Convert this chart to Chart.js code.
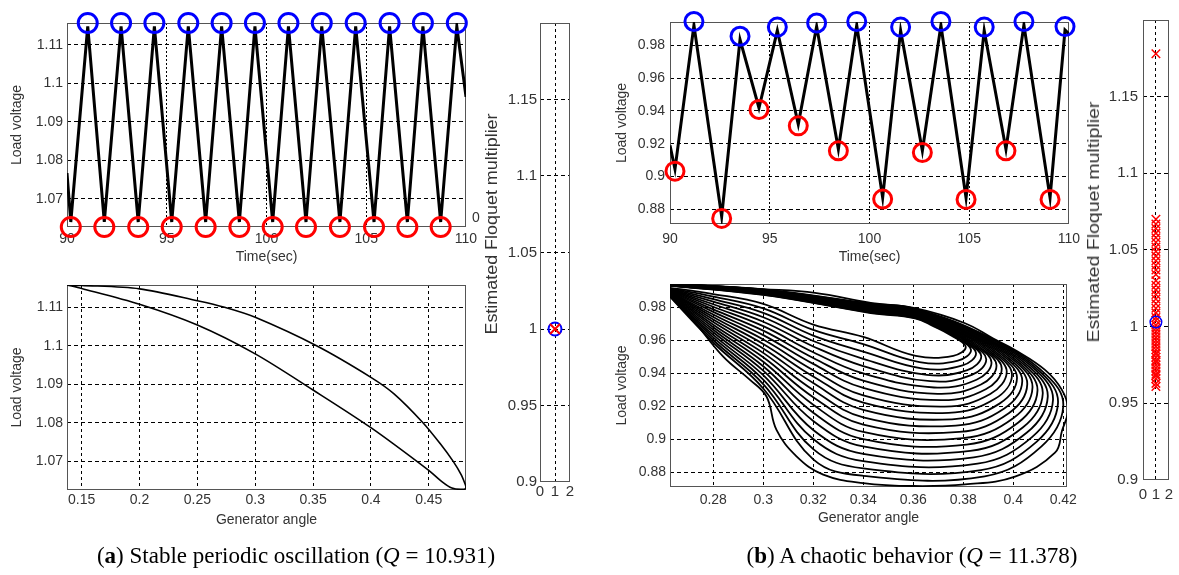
<!DOCTYPE html>
<html><head><meta charset="utf-8">
<script src="https://cdn.jsdelivr.net/npm/chart.js@4.4.1/dist/chart.umd.min.js"></script>
<style>
html,body{margin:0;padding:0;background:#fff;width:1179px;height:575px;overflow:hidden;position:relative}
canvas{position:absolute}
.lbl{position:absolute;font-family:"Liberation Sans",Arial,sans-serif;color:#333;white-space:nowrap;line-height:1}
.cap{position:absolute;font-family:"Liberation Serif","Times New Roman",serif;font-size:23px;color:#000;white-space:nowrap;transform:translate(-50%,-50%);line-height:1}
</style></head><body>
<canvas id="a1" width="490" height="275" style="left:0;top:0"></canvas>
<canvas id="a2" width="490" height="275" style="left:0;top:262px"></canvas>
<canvas id="a3" width="120" height="510" style="left:470px;top:0"></canvas>
<canvas id="b1" width="490" height="275" style="left:600px;top:0"></canvas>
<canvas id="b2" width="490" height="275" style="left:600px;top:262px"></canvas>
<canvas id="b3" width="99" height="510" style="left:1080px;top:0"></canvas>
<div class="lbl" style="left:476px;top:217px;font-size:14px;transform:translate(-50%,-50%)">0</div>
<div class="lbl" style="left:492px;top:224px;font-size:16px;transform:translate(-50%,-50%) rotate(-90deg) scaleX(1.12)">Estimated Floquet multiplier</div>
<div class="lbl" style="left:1094px;top:222px;font-size:16px;transform:translate(-50%,-50%) rotate(-90deg) scaleX(1.22)">Estimated Floquet multiplier</div>
<div class="cap" style="left:296px;top:555px">(<b>a</b>) Stable periodic oscillation (<i>Q</i> = 10.931)</div>
<div class="cap" style="left:912px;top:555px">(<b>b</b>) A chaotic behavior (<i>Q</i> = 11.378)</div>
<script>
// ---------- panel (a) top: load voltage vs time ----------
const timeA = [90, 90.19, 91.04, 91.87, 92.71, 93.57, 94.38, 95.25, 96.08, 96.95, 97.75, 98.64, 99.42, 100.31, 101.10, 101.98, 102.77, 103.68, 104.47, 105.39, 106.17, 107.06, 107.84, 108.73, 109.54, 110];
const voltA = [1.0767, 1.0640, 1.1148, 1.0640, 1.1148, 1.0640, 1.1148, 1.0640, 1.1148, 1.0640, 1.1148, 1.0640, 1.1148, 1.0640, 1.1148, 1.0640, 1.1148, 1.0640, 1.1148, 1.0640, 1.1148, 1.0640, 1.1148, 1.0640, 1.1148, 1.0965];
const peakTimeA = [91.04, 92.71, 94.38, 96.08, 97.75, 99.42, 101.10, 102.77, 104.47, 106.17, 107.84, 109.54];
const peakVoltA = [1.1157, 1.1157, 1.1157, 1.1157, 1.1157, 1.1157, 1.1157, 1.1157, 1.1157, 1.1157, 1.1157, 1.1157];
const troughTimeA = [90.19, 91.87, 93.57, 95.25, 96.95, 98.64, 100.31, 101.98, 103.68, 105.39, 107.06, 108.73];
const troughVoltA = [1.0627, 1.0627, 1.0627, 1.0627, 1.0627, 1.0627, 1.0627, 1.0627, 1.0627, 1.0627, 1.0627, 1.0627];
const timeTicks = [90, 95, 100, 105, 110];
const timeTickLabels = ['90', '95', '100', '105', '110'];
const voltTicksA = [1.07, 1.08, 1.09, 1.1, 1.11];
const voltTickLabelsA = ['1.07', '1.08', '1.09', '1.1', '1.11'];

// ---------- panel (a) bottom: phase portrait ----------
const angleA = [0.1373, 0.15, 0.2, 0.25, 0.2735, 0.3, 0.353, 0.4, 0.42, 0.445, 0.46, 0.471, 0.478, 0.4815, 0.4822, 0.4805, 0.47, 0.46, 0.45, 0.4, 0.35, 0.3, 0.25, 0.2, 0.15, 0.1373];
const phaseVoltA = [1.1158, 1.1157, 1.1148, 1.1117, 1.1100, 1.1074, 1.1000, 1.0918, 1.0875, 1.0800, 1.0745, 1.0700, 1.0665, 1.0640, 1.0632, 1.0627, 1.0630, 1.0650, 1.0676, 1.0787, 1.0885, 1.0979, 1.1054, 1.1108, 1.1149, 1.1158];
const angleTicksA = [0.15, 0.2, 0.25, 0.3, 0.35, 0.4, 0.45];
const angleTickLabelsA = ['0.15', '0.2', '0.25', '0.3', '0.35', '0.4', '0.45'];

// ---------- Floquet multipliers ----------
const floquetTicks = [0.9, 0.95, 1, 1.05, 1.1, 1.15];
const floquetTickLabels = ['0.9', '0.95', '1', '1.05', '1.1', '1.15'];
const indexTicks = [0, 1, 2];
const indexTickLabels = ['0', '1', '2'];
const floquetA = [1.0];
const floquetCircleA = [1.0];
const floquetB = [0.961, 0.963, 0.966, 0.968, 0.969, 0.971, 0.973, 0.975, 0.977, 0.978, 0.980, 0.982, 0.983, 0.985, 0.987, 0.989, 0.991, 0.993, 0.995, 0.997, 0.999, 1.001, 1.004, 1.006, 1.009, 1.012, 1.015, 1.018, 1.021, 1.024, 1.027, 1.030, 1.034, 1.037, 1.040, 1.043, 1.046, 1.049, 1.052, 1.055, 1.058, 1.061, 1.064, 1.067, 1.070, 1.178];
const floquetCircleB = [1.003];
const multiplierIndex = 1;

// ---------- panel (b) top: load voltage vs time ----------
const timeB = [90, 90.25, 91.20, 92.59, 93.51, 94.46, 95.38, 96.43, 97.35, 98.44, 99.36, 100.66, 101.56, 102.65, 103.58, 104.84, 105.75, 106.84, 107.74, 109.05, 109.80, 110];
const voltB = [0.9190, 0.9045, 0.9922, 0.8757, 0.9835, 0.9418, 0.9890, 0.9318, 0.9915, 0.9167, 0.9922, 0.8873, 0.9890, 0.9157, 0.9922, 0.8871, 0.9890, 0.9167, 0.9924, 0.8871, 0.9893, 0.9870];
const peakTimeB = [91.20, 93.51, 95.38, 97.35, 99.36, 101.56, 103.58, 105.75, 107.74, 109.80];
const peakVoltB = [0.9945, 0.9855, 0.9911, 0.9936, 0.9945, 0.9911, 0.9945, 0.9911, 0.9945, 0.9914];
const troughTimeB = [90.25, 92.59, 94.46, 96.43, 98.44, 100.66, 102.65, 104.84, 106.84, 109.05];
const troughVoltB = [0.9033, 0.8745, 0.9409, 0.9309, 0.9157, 0.8863, 0.9147, 0.8861, 0.9157, 0.8861];
const voltTicksB = [0.88, 0.9, 0.92, 0.94, 0.96, 0.98];
const voltTickLabelsB = ['0.88', '0.9', '0.92', '0.94', '0.96', '0.98'];

// ---------- panel (b) bottom: chaotic attractor, orbits ([angle, voltage]) ----------
const orbit01 = [[0.259,0.9935],[0.300,0.9875],[0.343,0.9765],[0.3607,0.9733],[0.368,0.9685],[0.375,0.9630],[0.381,0.9560],[0.376,0.9505],[0.361,0.9505],[0.340,0.9620],[0.320,0.9695],[0.300,0.9820],[0.280,0.9880],[0.259,0.9925]];
const orbit02 = [[0.259,0.9936],[0.300,0.9877],[0.343,0.9768],[0.3607,0.9736],[0.3692,0.9681],[0.3770,0.9618],[0.3831,0.9541],[0.3779,0.9476],[0.3625,0.9467],[0.340,0.9576],[0.320,0.9662],[0.300,0.9793],[0.280,0.9865],[0.259,0.9925]];
const orbit03 = [[0.259,0.9936],[0.300,0.9879],[0.343,0.9771],[0.3607,0.9739],[0.3704,0.9678],[0.3790,0.9605],[0.3851,0.9522],[0.3797,0.9447],[0.3639,0.9428],[0.340,0.9531],[0.320,0.9628],[0.300,0.9766],[0.280,0.9849],[0.259,0.9925]];
const orbit04 = [[0.259,0.9937],[0.300,0.9880],[0.343,0.9774],[0.3607,0.9742],[0.3716,0.9674],[0.3810,0.9593],[0.3872,0.9503],[0.3816,0.9418],[0.3654,0.9390],[0.340,0.9487],[0.320,0.9595],[0.300,0.9739],[0.280,0.9834],[0.259,0.9925]];
const orbit05 = [[0.259,0.9937],[0.300,0.9882],[0.343,0.9777],[0.3607,0.9745],[0.3728,0.9670],[0.3830,0.9580],[0.3892,0.9484],[0.3834,0.9389],[0.3668,0.9351],[0.340,0.9443],[0.320,0.9562],[0.300,0.9712],[0.280,0.9818],[0.259,0.9925]];
const orbit06 = [[0.259,0.9938],[0.300,0.9884],[0.343,0.9780],[0.3607,0.9748],[0.3740,0.9666],[0.3850,0.9568],[0.3913,0.9465],[0.3853,0.9360],[0.3683,0.9313],[0.340,0.9398],[0.320,0.9527],[0.300,0.9685],[0.280,0.9803],[0.259,0.9925]];
const orbit07 = [[0.259,0.9938],[0.300,0.9886],[0.343,0.9783],[0.3607,0.9751],[0.3752,0.9663],[0.3870,0.9555],[0.3933,0.9446],[0.3871,0.9331],[0.3697,0.9274],[0.340,0.9354],[0.320,0.9492],[0.300,0.9658],[0.280,0.9787],[0.259,0.9925]];
const orbit08 = [[0.259,0.9939],[0.300,0.9887],[0.343,0.9786],[0.3607,0.9754],[0.3764,0.9659],[0.3890,0.9543],[0.3954,0.9427],[0.3890,0.9302],[0.3712,0.9236],[0.340,0.9310],[0.320,0.9456],[0.300,0.9631],[0.280,0.9772],[0.259,0.9925]];
const orbit09 = [[0.259,0.9939],[0.300,0.9889],[0.343,0.9789],[0.3607,0.9757],[0.3776,0.9655],[0.3910,0.9530],[0.3974,0.9408],[0.3908,0.9273],[0.3726,0.9197],[0.340,0.9265],[0.320,0.9418],[0.300,0.9604],[0.280,0.9756],[0.259,0.9925]];
const orbit10 = [[0.259,0.9940],[0.300,0.9891],[0.343,0.9792],[0.3607,0.9760],[0.3788,0.9651],[0.3930,0.9518],[0.3995,0.9389],[0.3927,0.9244],[0.3741,0.9159],[0.340,0.9221],[0.320,0.9380],[0.300,0.9577],[0.280,0.9741],[0.259,0.9925]];
const orbit11 = [[0.259,0.9940],[0.300,0.9893],[0.343,0.9795],[0.3607,0.9764],[0.3800,0.9648],[0.3950,0.9505],[0.4015,0.9370],[0.3945,0.9215],[0.3755,0.9120],[0.340,0.9177],[0.320,0.9340],[0.300,0.9550],[0.280,0.9725],[0.259,0.9925]];
const orbit12 = [[0.259,0.9941],[0.300,0.9894],[0.343,0.9798],[0.3607,0.9767],[0.3812,0.9644],[0.3970,0.9493],[0.4036,0.9351],[0.3964,0.9186],[0.3770,0.9082],[0.340,0.9132],[0.320,0.9298],[0.300,0.9523],[0.280,0.9710],[0.259,0.9925]];
const orbit13 = [[0.259,0.9941],[0.300,0.9896],[0.343,0.9801],[0.3607,0.9770],[0.3824,0.9640],[0.3990,0.9480],[0.4056,0.9332],[0.3982,0.9157],[0.3784,0.9043],[0.340,0.9088],[0.320,0.9254],[0.300,0.9496],[0.280,0.9694],[0.259,0.9925]];
const orbit14 = [[0.259,0.9942],[0.300,0.9898],[0.343,0.9804],[0.3607,0.9773],[0.3836,0.9636],[0.4010,0.9468],[0.4077,0.9313],[0.4001,0.9128],[0.3799,0.9005],[0.340,0.9043],[0.320,0.9208],[0.300,0.9469],[0.280,0.9679],[0.259,0.9925]];
const orbit15 = [[0.259,0.9942],[0.300,0.9900],[0.343,0.9807],[0.3607,0.9776],[0.3848,0.9633],[0.4030,0.9455],[0.4097,0.9294],[0.4019,0.9099],[0.3813,0.8966],[0.340,0.8999],[0.320,0.9160],[0.300,0.9442],[0.280,0.9663],[0.259,0.9925]];
const orbit16 = [[0.259,0.9943],[0.300,0.9901],[0.343,0.9810],[0.3607,0.9779],[0.3860,0.9629],[0.4050,0.9443],[0.4118,0.9275],[0.4038,0.9070],[0.3828,0.8928],[0.340,0.8955],[0.320,0.9110],[0.300,0.9415],[0.280,0.9648],[0.259,0.9925]];
const orbit17 = [[0.259,0.9943],[0.300,0.9903],[0.343,0.9813],[0.3607,0.9782],[0.3872,0.9625],[0.4070,0.9430],[0.4138,0.9256],[0.4056,0.9041],[0.3842,0.8889],[0.340,0.8910],[0.320,0.9055],[0.300,0.9388],[0.280,0.9632],[0.259,0.9925]];
const orbit18 = [[0.259,0.9944],[0.300,0.9905],[0.343,0.9816],[0.3607,0.9785],[0.3884,0.9621],[0.4090,0.9418],[0.4159,0.9237],[0.4075,0.9012],[0.3857,0.8851],[0.340,0.8866],[0.320,0.9000],[0.300,0.9361],[0.280,0.9617],[0.259,0.9925]];
const orbit19 = [[0.259,0.9944],[0.300,0.9907],[0.343,0.9819],[0.3607,0.9788],[0.3896,0.9618],[0.4110,0.9405],[0.4179,0.9218],[0.4093,0.8983],[0.3871,0.8812],[0.340,0.8822],[0.320,0.8939],[0.300,0.9334],[0.280,0.9601],[0.259,0.9925]];
const orbit20 = [[0.259,0.9945],[0.300,0.9908],[0.343,0.9822],[0.3607,0.9791],[0.3908,0.9614],[0.4130,0.9393],[0.4200,0.9199],[0.4112,0.8954],[0.3886,0.8774],[0.340,0.8777],[0.320,0.8877],[0.300,0.9307],[0.280,0.9586],[0.259,0.9925]];
const orbit21 = [[0.259,0.9945],[0.300,0.9910],[0.3207,0.9887],[0.343,0.9826],[0.3607,0.9794],[0.3807,0.9703],[0.392,0.961],[0.4007,0.9541],[0.4127,0.942],[0.4194,0.930],[0.4219,0.9178],[0.4195,0.9050],[0.4167,0.8917],[0.4007,0.8772],[0.3807,0.8725],[0.360,0.8715],[0.340,0.8733],[0.324,0.8784],[0.3133,0.8895],[0.3053,0.9056],[0.3013,0.9258],[0.2947,0.9359],[0.284,0.950],[0.2707,0.9744],[0.259,0.9925]];
const attractorOrbits = [orbit01, orbit02, orbit03, orbit04, orbit05, orbit06, orbit07, orbit08, orbit09, orbit10, orbit11, orbit12, orbit13, orbit14, orbit15, orbit16, orbit17, orbit18, orbit19, orbit20, orbit21];
const angleTicksB = [0.28, 0.3, 0.32, 0.34, 0.36, 0.38, 0.4, 0.42];
const angleTickLabelsB = ['0.28', '0.3', '0.32', '0.34', '0.36', '0.38', '0.4', '0.42'];

// ---------- helpers ----------
const SANS = '"Liberation Sans", Arial, sans-serif';
const TXT = '#333';
const pts = (xs, ys) => xs.map((x, i) => ({ x: x, y: ys[i] }));

const gridColor = (c) => {
  if (!c.tick) return 'rgba(0,0,0,0)';
  const s = c.scale, v = c.tick.value, eps = (s.max - s.min) * 1e-6;
  if (Math.abs(v - s.min) < eps || Math.abs(v - s.max) < eps) return 'rgba(0,0,0,0)';
  return '#000';
};

const framePlugin = {
  id: 'frame',
  beforeDatasetsDraw(chart) {
    const { ctx, chartArea: a } = chart;
    ctx.save();
    ctx.strokeStyle = '#555';
    ctx.lineWidth = 1;
    ctx.strokeRect(Math.round(a.left) + 0.5, Math.round(a.top) + 0.5,
      Math.round(a.right - a.left) - 1, Math.round(a.bottom - a.top) - 1);
    ctx.restore();
  }
};

function axis(o) {
  const cfg = {
    type: 'linear', min: o.min, max: o.max,
    afterBuildTicks: (s) => { s.ticks = o.ticks.map(v => ({ value: v })); },
    afterFit: (s) => { if (o.pos === 'x') s.height = o.size; else s.width = o.size; },
    ticks: { autoSkip: false, maxRotation: 0, minRotation: 0, padding: o.tickPad, color: TXT,
      font: { family: SANS, size: o.fontSize || 14 }, callback: (v, i) => o.labels[i] },
    grid: { color: gridColor, lineWidth: 1, drawTicks: false },
    border: { display: false, dash: o.dash || [3, 3] }
  };
  if (o.title) {
    cfg.title = { display: true, text: o.title, color: TXT, font: { family: SANS, size: 14 },
      padding: o.pos === 'x' ? { top: 0, bottom: o.titlePad } : { top: o.titlePad, bottom: 0 } };
  }
  return cfg;
}

function makeChart(id, xs, ys, pad, datasets) {
  return new Chart(document.getElementById(id), {
    type: 'scatter',
    data: { datasets: datasets },
    options: {
      responsive: false, animation: false, devicePixelRatio: 1, events: [],
      layout: { padding: { top: pad.top, right: pad.right, left: 0, bottom: 0 } },
      plugins: { legend: { display: false }, tooltip: { enabled: false } },
      scales: { x: axis(Object.assign({ pos: 'x' }, xs)), y: axis(Object.assign({ pos: 'y' }, ys)) }
    },
    plugins: [framePlugin]
  });
}

const lineDS = (data, w, tension) => ({ data: data, showLine: true, borderColor: '#000', borderWidth: w,
  pointRadius: 0, tension: tension || 0, fill: false, order: 2 });
const markDS = (data, style, color, r, bw, order) => ({ data: data, showLine: false, pointStyle: style,
  pointRadius: r, pointBorderWidth: bw, borderColor: color, backgroundColor: 'rgba(0,0,0,0)',
  pointBorderColor: color, pointBackgroundColor: 'rgba(0,0,0,0)', clip: false, order: order });

// ---------- (a) time series ----------
makeChart('a1',
  { min: 90, max: 110, ticks: timeTicks, labels: timeTickLabels, size: 48, tickPad: 4, title: 'Time(sec)', titlePad: 9.6, dash: [2, 2] },
  { min: 1.0627, max: 1.1157, ticks: voltTicksA, labels: voltTickLabelsA, size: 67, tickPad: 4, title: 'Load voltage', titlePad: 8.6, dash: [4, 3] },
  { top: 23, right: 24 },
  [ markDS(pts(peakTimeA, peakVoltA), 'circle', '#0000ff', 9.5, 3, 0),
    markDS(pts(troughTimeA, troughVoltA), 'circle', '#ff0000', 9.5, 3, 0),
    lineDS(pts(timeA, voltA), 3) ]);

// ---------- (a) phase portrait ----------
makeChart('a2',
  { min: 0.1373, max: 0.4822, ticks: angleTicksA, labels: angleTickLabelsA, size: 47, tickPad: 2, title: 'Generator angle', titlePad: 8.6, dash: [3, 3] },
  { min: 1.0625, max: 1.1158, ticks: voltTicksA, labels: voltTickLabelsA, size: 67, tickPad: 4, title: 'Load voltage', titlePad: 8.6, dash: [4, 3] },
  { top: 23, right: 24 },
  [ lineDS(pts(angleA, phaseVoltA), 1.6, 0.3) ]);

// ---------- (a) Floquet ----------
makeChart('a3',
  { min: 0, max: 2, ticks: indexTicks, labels: indexTickLabels, size: 28, tickPad: 1, fontSize: 15, dash: [3, 3] },
  { min: 0.9, max: 1.2, ticks: floquetTicks, labels: floquetTickLabels, size: 70, tickPad: 3, fontSize: 15, dash: [4, 3] },
  { top: 23, right: 20 },
  [ markDS(floquetA.map(v => ({ x: multiplierIndex, y: v })), 'crossRot', '#ff0000', 7, 2, 0),
    markDS(floquetCircleA.map(v => ({ x: multiplierIndex, y: v })), 'circle', '#0000ff', 6.5, 2, 1) ]);

// ---------- (b) time series ----------
makeChart('b1',
  { min: 90, max: 110, ticks: timeTicks, labels: timeTickLabels, size: 51, tickPad: 7, title: 'Time(sec)', titlePad: 9.6, dash: [2, 2] },
  { min: 0.8711, max: 0.9942, ticks: voltTicksB, labels: voltTickLabelsB, size: 70, tickPad: 5, title: 'Load voltage', titlePad: 13.6, dash: [4, 3] },
  { top: 22, right: 21 },
  [ markDS(pts(peakTimeB, peakVoltB), 'circle', '#0000ff', 9, 3, 0),
    markDS(pts(troughTimeB, troughVoltB), 'circle', '#ff0000', 9, 3, 0),
    lineDS(pts(timeB, voltB), 3) ]);

// ---------- (b) chaotic attractor ----------
makeChart('b2',
  { min: 0.2627, max: 0.4215, ticks: angleTicksB, labels: angleTickLabelsB, size: 50, tickPad: 5, title: 'Generator angle', titlePad: 10.6, dash: [3, 3] },
  { min: 0.8709, max: 0.9941, ticks: voltTicksB, labels: voltTickLabelsB, size: 70, tickPad: 4, title: 'Load voltage', titlePad: 13.6, dash: [4, 3] },
  { top: 22, right: 23 },
  attractorOrbits.map(l => lineDS(l.map(p => ({ x: p[0], y: p[1] })), 1.8, 0.4)));

// ---------- (b) Floquet ----------
makeChart('b3',
  { min: 0, max: 2, ticks: indexTicks, labels: indexTickLabels, size: 30, tickPad: 6, fontSize: 15, dash: [3, 3] },
  { min: 0.9, max: 1.2, ticks: floquetTicks, labels: floquetTickLabels, size: 63, tickPad: 5, fontSize: 15, dash: [4, 3] },
  { top: 20, right: 6 },
  [ markDS(floquetCircleB.map(v => ({ x: multiplierIndex, y: v })), 'circle', '#0000ff', 5.8, 1.5, 0),
    markDS(floquetB.map(v => ({ x: multiplierIndex, y: v })), 'crossRot', '#ff0000', 6, 1.5, 1) ]);
</script>
</body></html>
